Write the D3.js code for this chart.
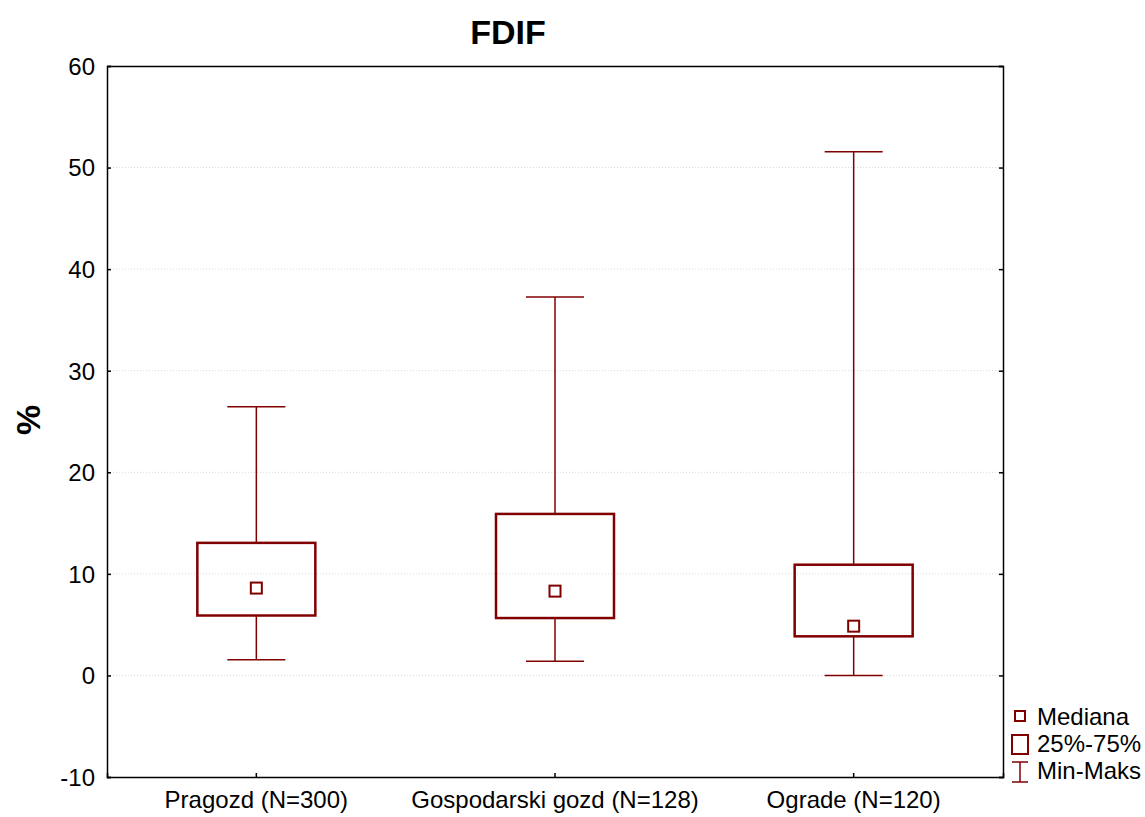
<!DOCTYPE html>
<html>
<head>
<meta charset="utf-8">
<script src="https://cdn.jsdelivr.net/npm/d3@7"></script>
<style>
  body { margin: 0; background: #fff; }
  svg { font-family: "Liberation Sans", Arial, sans-serif; }
</style>
</head>
<body>
<div id="chart"></div>
<script>
// data
const categories = ['Pragozd (N=300)', 'Gospodarski gozd (N=128)', 'Ograde (N=120)'];
const minVals = [1.55, 1.4, 0.0];
const q1Vals = [5.9, 5.65, 3.85];
const medianVals = [8.6, 8.3, 4.85];
const q3Vals = [13.05, 15.9, 10.9];
const maxVals = [26.45, 37.25, 51.55];
const yTicks = [-10, 0, 10, 20, 30, 40, 50, 60];

const color = '#800000';
const width = 1145, height = 817;
const margin = { top: 66, right: 142, bottom: 40, left: 107 };
const innerW = width - margin.left - margin.right;
const innerH = height - margin.top - margin.bottom;

const svg = d3.select('#chart').append('svg')
    .attr('width', width)
    .attr('height', height);

const g = svg.append('g')
    .attr('transform', `translate(${margin.left},${margin.top})`);

const x = d3.scaleBand().domain(categories).range([0, innerW]);
const y = d3.scaleLinear().domain([-10, 60]).range([innerH, 0]);

const data = categories.map((c, i) => ({
    name: c, min: minVals[i], q1: q1Vals[i], median: medianVals[i], q3: q3Vals[i], max: maxVals[i]
}));

// grid lines
g.selectAll('.grid').data(yTicks.slice(1, -1)).enter().append('line')
    .attr('x1', 0).attr('x2', innerW)
    .attr('y1', d => y(d)).attr('y2', d => y(d))
    .attr('stroke', '#d8d8d8')
    .attr('stroke-width', 1)
    .attr('stroke-dasharray', '1,2');

// axes (ticks pointing inward)
const yAxis = g.append('g').call(d3.axisLeft(y).tickValues(yTicks).tickSize(-4).tickPadding(12).tickFormat(d => String(d)));
const yAxisR = g.append('g').attr('transform', `translate(${innerW},0)`)
    .call(d3.axisRight(y).tickValues(yTicks).tickSize(-4).tickFormat(''));
const xAxis = g.append('g').attr('transform', `translate(0,${innerH})`)
    .call(d3.axisBottom(x).tickSize(-4).tickPadding(14));
const xAxisT = g.append('g')
    .call(d3.axisTop(x).tickSize(0).tickFormat(''));

[yAxis, yAxisR, xAxis, xAxisT].forEach(a => {
    a.select('.domain').attr('stroke', '#000').attr('stroke-width', 1.5);
    a.selectAll('.tick line').attr('stroke', '#000').attr('stroke-width', 1.5);
    a.selectAll('text').attr('fill', '#000').attr('font-size', 24);
});
yAxis.selectAll('text').attr('dy', '0.35em');

// boxes
const boxW = 118, capW = 58, medS = 11;
const grp = g.selectAll('.box').data(data).enter().append('g')
    .attr('transform', d => `translate(${x(d.name) + x.bandwidth() / 2},0)`);

grp.append('line')
    .attr('x1', 0).attr('x2', 0)
    .attr('y1', d => y(d.max)).attr('y2', d => y(d.q3))
    .attr('stroke', color).attr('stroke-width', 1.5);
grp.append('line')
    .attr('x1', 0).attr('x2', 0)
    .attr('y1', d => y(d.q1)).attr('y2', d => y(d.min))
    .attr('stroke', color).attr('stroke-width', 1.5);
grp.append('line')
    .attr('x1', -capW / 2).attr('x2', capW / 2)
    .attr('y1', d => y(d.max)).attr('y2', d => y(d.max))
    .attr('stroke', color).attr('stroke-width', 1.5);
grp.append('line')
    .attr('x1', -capW / 2).attr('x2', capW / 2)
    .attr('y1', d => y(d.min)).attr('y2', d => y(d.min))
    .attr('stroke', color).attr('stroke-width', 1.5);
grp.append('rect')
    .attr('x', -boxW / 2).attr('width', boxW)
    .attr('y', d => y(d.q3)).attr('height', d => y(d.q1) - y(d.q3))
    .attr('fill', 'none').attr('stroke', color).attr('stroke-width', 2.5);
grp.append('rect')
    .attr('x', -medS / 2).attr('width', medS)
    .attr('y', d => y(d.median) - medS / 2).attr('height', medS)
    .attr('fill', '#fff').attr('stroke', color).attr('stroke-width', 2);

// title
svg.append('text')
    .attr('x', 508).attr('y', 44)
    .attr('text-anchor', 'middle')
    .attr('font-size', 34).attr('font-weight', 'bold')
    .text('FDIF');

// y label
svg.append('text')
    .attr('transform', 'translate(40,420) rotate(-90)')
    .attr('text-anchor', 'middle')
    .attr('font-size', 34).attr('font-weight', 'bold')
    .text('%');

// legend
const lg = svg.append('g').attr('transform', 'translate(1020,0)');
lg.append('rect').attr('x', -5).attr('y', 711).attr('width', 10).attr('height', 10)
    .attr('fill', '#fff').attr('stroke', color).attr('stroke-width', 2);
lg.append('rect').attr('x', -8).attr('y', 735).attr('width', 16).attr('height', 19)
    .attr('fill', '#fff').attr('stroke', color).attr('stroke-width', 2);
lg.append('line').attr('x1', 0).attr('x2', 0).attr('y1', 762).attr('y2', 782)
    .attr('stroke', color).attr('stroke-width', 1.5);
lg.append('line').attr('x1', -8).attr('x2', 8).attr('y1', 762).attr('y2', 762)
    .attr('stroke', color).attr('stroke-width', 1.5);
lg.append('line').attr('x1', -8).attr('x2', 8).attr('y1', 782).attr('y2', 782)
    .attr('stroke', color).attr('stroke-width', 1.5);
const legendLabels = ['Mediana', '25%-75%', 'Min-Maks'];
lg.selectAll('.lt').data(legendLabels).enter().append('text')
    .attr('x', 17).attr('y', (d, i) => 725 + i * 27)
    .attr('font-size', 24)
    .text(d => d);
</script>
</body>
</html>
